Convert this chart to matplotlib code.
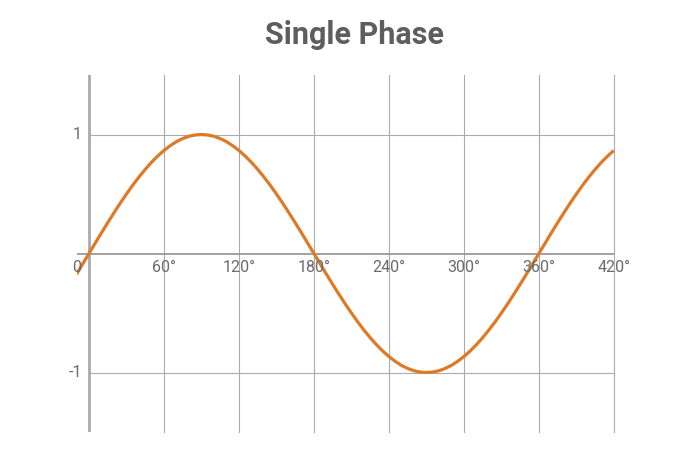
import matplotlib

matplotlib.use("Agg")
import matplotlib.pyplot as plt
from matplotlib.transforms import offset_copy

# phase angle (deg) and value
angles = list(range(-10, 425, 5))
values = [
    -0.174, -0.087,
    0.000, 0.087, 0.174, 0.259, 0.342, 0.423, 0.500, 0.574, 0.643, 0.707, 0.766, 0.819,
    0.866, 0.906, 0.940, 0.966, 0.985, 0.996, 1.000, 0.996, 0.985, 0.966, 0.940, 0.906,
    0.866, 0.819, 0.766, 0.707, 0.643, 0.574, 0.500, 0.423, 0.342, 0.259, 0.174, 0.087,
    0.000, -0.087, -0.174, -0.259, -0.342, -0.423, -0.500, -0.574, -0.643, -0.707, -0.766, -0.819,
    -0.866, -0.906, -0.940, -0.966, -0.985, -0.996, -1.000, -0.996, -0.985, -0.966, -0.940, -0.906,
    -0.866, -0.819, -0.766, -0.707, -0.643, -0.574, -0.500, -0.423, -0.342, -0.259, -0.174, -0.087,
    0.000, 0.087, 0.174, 0.259, 0.342, 0.423, 0.500, 0.574, 0.643, 0.707, 0.766, 0.819, 0.866,
]
x_ticks = [0, 60, 120, 180, 240, 300, 360, 420]
x_labels = ["0", "60°", "120°", "180°", "240°", "300°", "360°", "420°"]
y_ticks = [1, -1]
y_labels = ["1", "-1"]

plt.rcParams["font.family"] = ["Roboto", "DejaVu Sans"]

fig = plt.figure(figsize=(6.96, 4.68), dpi=100)
ax = fig.add_axes([0.1106, 0.0769, 0.882 - 0.1106, 0.8397 - 0.0769])
ax.set_xlim(-9.6, 420)
ax.set_ylim(-1.5, 1.5)
for s in ax.spines.values():
    s.set_visible(False)
ax.set_xticks([])
ax.set_yticks([])

grid_c = "#ababab"
for x in x_ticks[1:]:
    ax.axvline(x, color=grid_c, lw=0.8, zorder=1, clip_on=False)
for y in y_ticks:
    ax.hlines(y, 0, 420, color=grid_c, lw=0.8, zorder=1)
ax.axhline(0, color="#999999", lw=1.3, zorder=1)
ax.axvline(0, color="#aaaaaa", lw=2, zorder=1)

ax.plot(angles, values, color="#dc7a28", lw=2.3, zorder=3,
        solid_capstyle="butt", solid_joinstyle="round")

lab_c = "#6b6b6b"
for x, lab in zip(x_ticks, x_labels):
    dx = -9 if x == 0 else 0
    tr = offset_copy(ax.transData, fig=fig, x=dx, y=-5, units="points")
    ax.text(x, 0, lab, transform=tr, ha="center", va="top", fontsize=11.5, color=lab_c)
for y, lab in zip(y_ticks, y_labels):
    tr = offset_copy(ax.transData, fig=fig, x=-5, y=0, units="points")
    ax.text(0, y, lab, transform=tr, ha="right", va="center", fontsize=11.5, color=lab_c)

fig.text(0.51, 0.925, "Single Phase", ha="center", va="center",
         fontsize=22, fontweight="bold", color="#5e5e5e")

fig.savefig("out.png", dpi=100)
